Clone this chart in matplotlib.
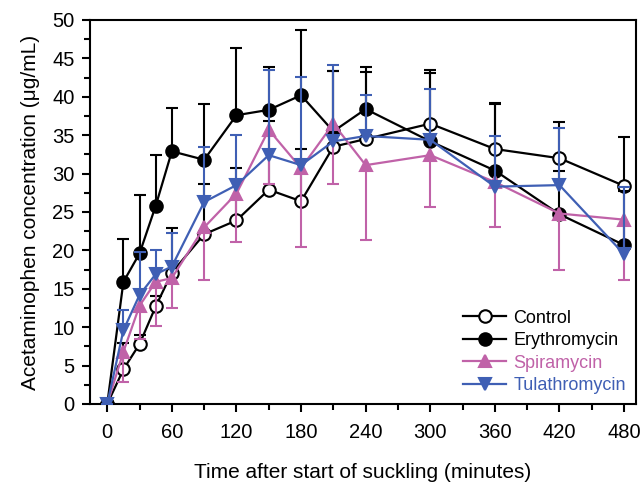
import numpy as np
import matplotlib
matplotlib.use("Agg")
import matplotlib.pyplot as plt
from matplotlib.ticker import MultipleLocator

plt.rcParams['font.family'] = ['Liberation Sans', 'DejaVu Sans']

minutes = [0, 15, 30, 45, 60, 90, 120, 150, 180, 210, 240, 300, 360, 420, 480]

control = [0, 4.5, 7.8, 12.7, 17.1, 22.1, 23.9, 27.9, 26.4, 33.5, 34.5, 36.5, 33.2, 32.0, 28.4]
control_hi = [0, 7.9, 9.0, 14.0, 22.9, 28.7, 30.7, 36.8, 33.2, 43.3, 43.2, 43.1, 39.2, 36.7, 34.8]

erythro = [0, 15.9, 19.6, 25.8, 32.9, 31.8, 37.6, 38.3, 40.2, 35.5, 38.4, 34.2, 30.4, 24.7, 20.7]
erythro_hi = [0, 21.5, 27.2, 32.4, 38.5, 39.1, 46.3, 43.9, 48.7, 43.3, 43.9, 43.5, 39.1, 30.4, 27.7]

spira = [0, 6.8, 12.8, 15.9, 16.4, 23.0, 27.4, 35.7, 30.7, 36.5, 31.1, 32.4, 28.9, 24.8, 24.0]
spira_lo = [0, 2.9, 8.5, 10.1, 12.5, 16.2, 21.1, 28.6, 20.5, 28.6, 21.3, 25.6, 23.1, 17.5, 16.2]

tula = [0, 9.6, 14.2, 16.9, 17.9, 26.3, 28.5, 32.4, 31.1, 34.2, 34.9, 34.4, 28.3, 28.5, 19.5]
tula_hi = [0, 12.2, 19.8, 20.1, 22.2, 33.4, 35.0, 43.5, 42.6, 44.2, 40.2, 41.0, 34.9, 35.9, 28.3]

pink = '#c062a8'
blue = '#3f5fb4'

fig = plt.figure(figsize=(6.43, 4.83), dpi=100)
ax = fig.add_axes([0.140, 0.1636, 0.849, 0.795])

series = [
    ('Control', control, control_hi, 'o', 'white', 'black'),
    ('Erythromycin', erythro, erythro_hi, 'o', 'black', 'black'),
    ('Spiramycin', spira, spira_lo, '^', pink, pink),
    ('Tulathromycin', tula, tula_hi, 'v', blue, blue),
]

handles = []
for i, (name, y, bar, mk, face, col) in enumerate(series):
    z = 2 + i
    # one-sided error bars: stem plus a cap at the far end
    ax.vlines(minutes, y, bar, colors=col, linewidth=1.5, zorder=z)
    ax.plot(minutes, bar, linestyle='none', marker='_', markersize=9,
            markeredgewidth=1.5, color=col, zorder=z)
    h, = ax.plot(minutes, y, color=col, linewidth=1.6, marker=mk,
                 markersize=9, markerfacecolor=face, markeredgecolor=col,
                 markeredgewidth=1.5, label=name, zorder=z + 0.5)
    handles.append(h)

ax.set_xlim(-16, 491)
ax.set_ylim(0, 50)
ax.xaxis.set_major_locator(MultipleLocator(60))
ax.xaxis.set_minor_locator(MultipleLocator(30))
ax.yaxis.set_major_locator(MultipleLocator(5))
ax.yaxis.set_minor_locator(MultipleLocator(2.5))
ax.tick_params(which='both', direction='out', width=1.5, labelsize=14.5)
ax.tick_params(which='major', length=6, pad=5)
ax.tick_params(which='minor', length=4)
ax.tick_params(axis='x', which='major', pad=8)
for s in ax.spines.values():
    s.set_linewidth(1.5)

ax.set_xlabel('Time after start of suckling (minutes)', fontsize=15, labelpad=15)
ax.set_ylabel('Acetaminophen concentration (\u03bcg/mL)', fontsize=15, labelpad=9)

leg = ax.legend(handles=handles, loc='lower right', bbox_to_anchor=(1.0, 0.0),
                frameon=False, fontsize=13, handlelength=2.4, handletextpad=0.4,
                labelspacing=0.3, borderaxespad=0.15)
for txt, (_, _, _, _, _, col) in zip(leg.get_texts(), series):
    txt.set_color(col)

fig.savefig('out.png', dpi=100)
